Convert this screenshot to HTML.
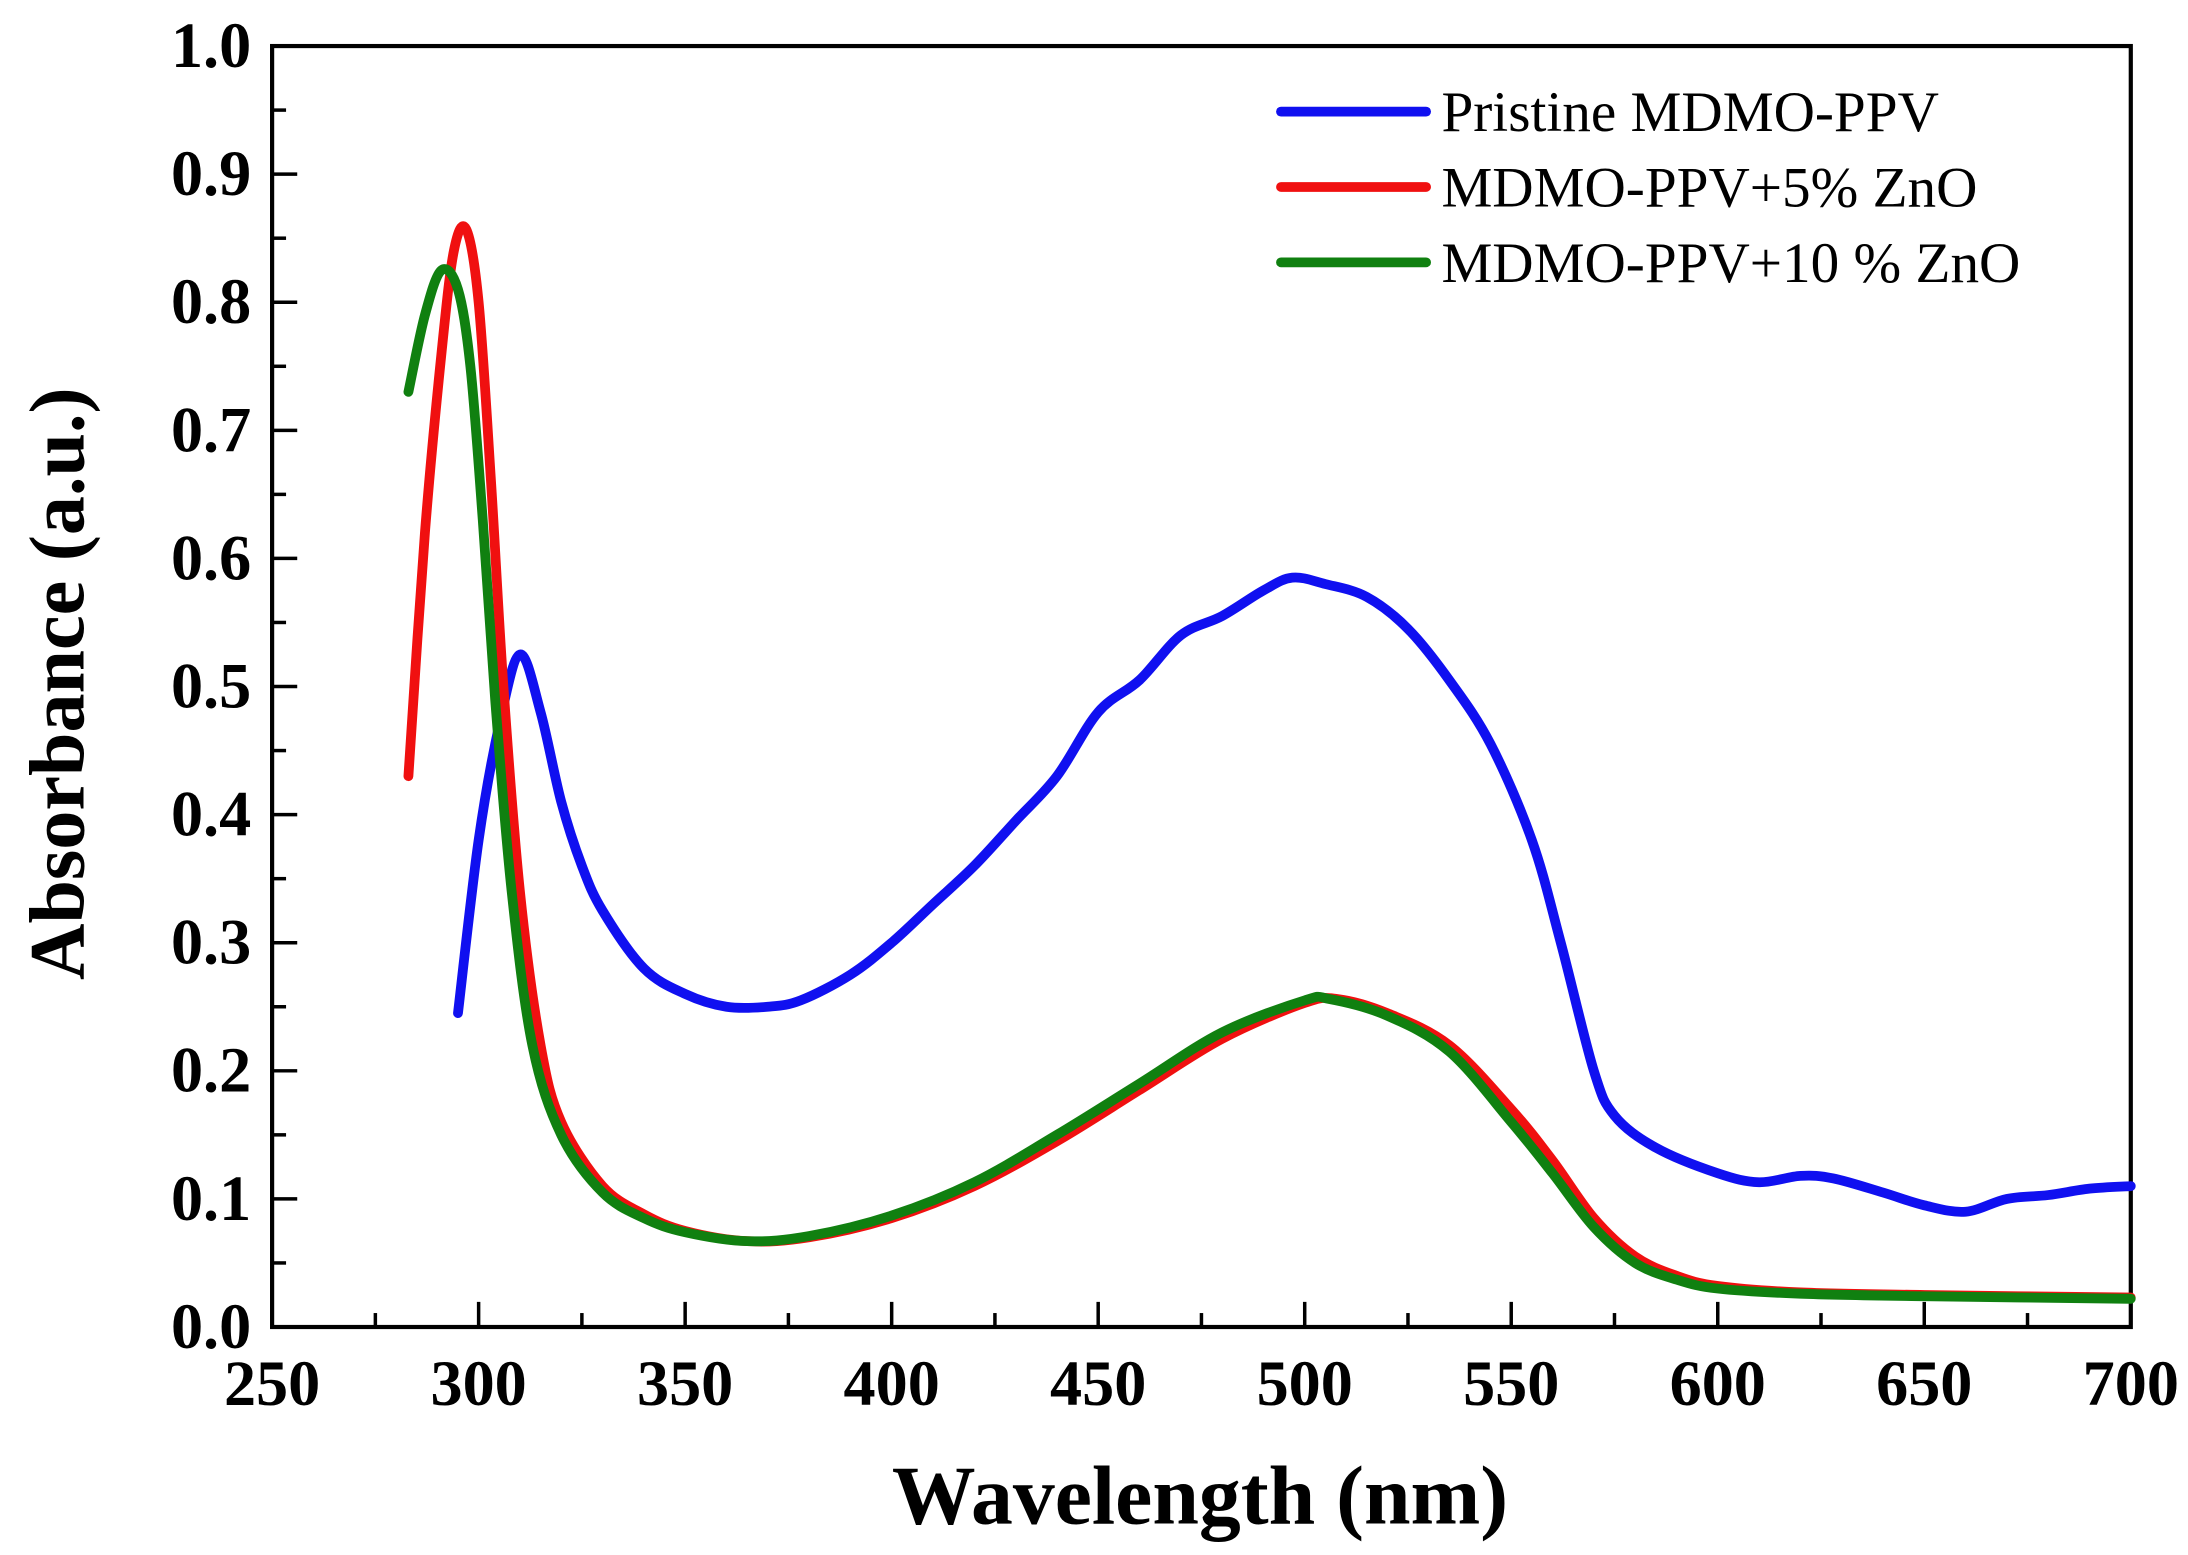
<!DOCTYPE html>
<html><head><meta charset="utf-8"><style>html,body{margin:0;padding:0;background:#fff}svg{display:block}</style></head>
<body>
<svg width="2188" height="1555" viewBox="0 0 1568 1114.4" preserveAspectRatio="none" xmlns="http://www.w3.org/2000/svg">
<rect width="1568" height="1115" fill="#fff"/>
<g id="ticks" stroke="#000" stroke-width="2.5" fill="none"></g>
<rect x="195" y="33" width="1332" height="918" fill="none" stroke="#000" stroke-width="3"/>
<g id="curves" fill="none" stroke-width="7" stroke-linejoin="round" stroke-linecap="round"></g>
<g font-family="Liberation Serif, serif" font-weight="bold" font-size="46" fill="#000" id="labels"></g>
<text x="860" y="1092" font-family="Liberation Serif, serif" font-weight="bold" font-size="60" text-anchor="middle">Wavelength (nm)</text>
<text transform="translate(60,490) rotate(-90)" font-family="Liberation Serif, serif" font-weight="bold" font-size="56" text-anchor="middle">Absorbance (a.u.)</text>
<g stroke-width="7" stroke-linecap="round">
<line x1="918" y1="80" x2="1022" y2="80" stroke="#1010f0"/>
<line x1="918" y1="134" x2="1022" y2="134" stroke="#f01010"/>
<line x1="918" y1="188" x2="1022" y2="188" stroke="#108010"/>
</g>
<g font-family="Liberation Serif, serif" font-size="41" fill="#000">
<text x="1033" y="94">Pristine MDMO-PPV</text>
<text x="1033" y="148">MDMO-PPV+5% ZnO</text>
<text x="1033" y="202">MDMO-PPV+10 % ZnO</text>
</g>
</svg>
<script>
const X=w=>195+(w-250)*1332/450, Y=a=>951-a*918;
const ns="http://www.w3.org/2000/svg";
const t=document.getElementById('ticks'),L=document.getElementById('labels'),C=document.getElementById('curves');
function el(p,tag,at,txt){const e=document.createElementNS(ns,tag);for(const k in at)e.setAttribute(k,at[k]);if(txt)e.textContent=txt;p.appendChild(e);}
for(let w=250;w<=700;w+=25){const x=X(w),l=(w%50==0)?18:10;el(t,'line',{x1:x,y1:951,x2:x,y2:951-l});if(w%50==0)el(L,'text',{x:x,y:1007,'text-anchor':'middle'},String(w));}
for(let i=0;i<=20;i++){const a=i*0.05,y=Y(a),l=(i%2==0)?18:10;el(t,'line',{x1:195,y1:y,x2:195+l,y2:y});if(i%2==0)el(L,'text',{x:180,y:y+15,'text-anchor':'end'},a.toFixed(1));}
const blue=[[295,.245],[300,.38],[305,.47],[310,.525],[315,.48],[320,.41],[325,.36],[330,.325],[340,.28],[350,.26],[360,.25],[370,.25],[378,.255],[390,.275],[400,.30],[410,.33],[420,.36],[430,.395],[440,.43],[450,.48],[460,.505],[470,.54],[480,.555],[490,.575],[497,.585],[505,.58],[515,.57],[525,.545],[535,.505],[545,.455],[555,.38],[562,.30],[570,.20],[575,.165],[585,.14],[600,.12],[610,.113],[620,.118],[628,.116],[640,.105],[650,.095],[660,.09],[670,.1],[680,.103],[690,.108],[700,.11]];
const red=[[283,.43],[287,.62],[291,.76],[294,.84],[297,.857],[300,.80],[303,.66],[306,.50],[310,.34],[315,.22],[320,.16],[330,.11],[340,.088],[350,.075],[365,.067],[380,.07],[400,.085],[420,.11],[440,.145],[460,.185],[480,.225],[500,.253],[508,.256],[520,.245],[535,.22],[550,.17],[560,.13],[570,.085],[580,.055],[590,.04],[600,.032],[620,.027],[650,.025],[700,.023]];
const green=[[283,.73],[287,.79],[291,.825],[295,.81],[298,.75],[301,.63],[304,.49],[308,.34],[313,.22],[320,.15],[330,.105],[340,.085],[350,.074],[365,.067],[380,.071],[400,.087],[420,.113],[440,.15],[460,.19],[480,.23],[500,.255],[506,.256],[520,.243],[535,.215],[550,.16],[560,.12],[570,.078],[580,.05],[590,.037],[600,.03],[620,.026],[650,.024],[700,.022]];
function draw(d,col){const p=d.map(q=>[X(q[0]),Y(q[1])]);let s='M'+p[0][0]+','+p[0][1];
for(let i=0;i<p.length-1;i++){const a=p[Math.max(0,i-1)],b=p[i],c2=p[i+1],e=p[Math.min(p.length-1,i+2)];
const c1x=b[0]+(c2[0]-a[0])/6,c1y=b[1]+(c2[1]-a[1])/6,c3x=c2[0]-(e[0]-b[0])/6,c3y=c2[1]-(e[1]-b[1])/6;
s+=' C'+c1x+','+c1y+' '+c3x+','+c3y+' '+c2[0]+','+c2[1];}
el(C,'path',{d:s,stroke:col});}
draw(blue,'#1010f0');draw(red,'#f01010');draw(green,'#108010');
</script>
</body></html>
